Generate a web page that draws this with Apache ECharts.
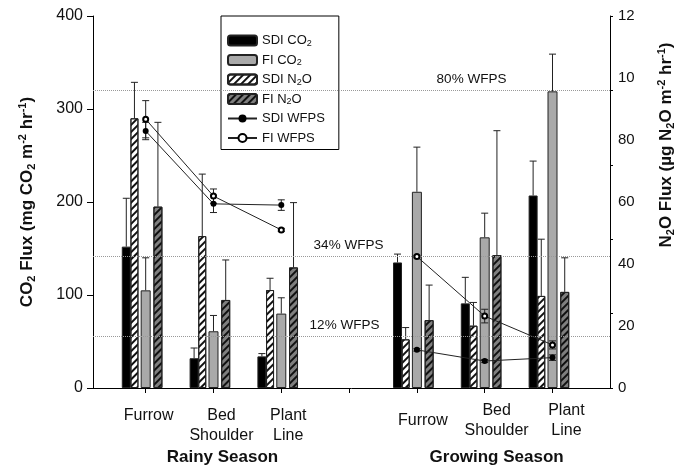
<!DOCTYPE html>
<html><head><meta charset="utf-8">
<script src="https://cdn.jsdelivr.net/npm/echarts@6/dist/echarts.min.js"></script>
<style>html,body{margin:0;padding:0;background:#fff}#c{width:684px;height:468px}</style>
</head><body><div id="c"></div>
<script>
// ---------------- data ----------------
const sites = ['Furrow', 'Bed\nShoulder', 'Plant\nLine'];
const seasons = ['Rainy Season', 'Growing Season'];
// order: Rainy (Furrow, Bed Shoulder, Plant Line), Growing (Furrow, Bed Shoulder, Plant Line)
const sdiCO2    = [152, 32, 34, 135, 91, 207];
const sdiCO2Err = [52, 11, 3, 9, 28, 37];
const fiCO2     = [105, 61, 80, 211, 162, 319];
const fiCO2Err  = [35, 17, 17, 48, 26, 40];
const sdiN2O    = [8.7, 4.9, 3.16, 1.57, 2.01, 2.97];
const sdiN2OErr = [1.16, 2.0, 0.38, 0.38, 0.75, 1.83];
const fiN2O     = [5.85, 2.84, 3.89, 2.19, 4.29, 3.1];
const fiN2OErr  = [2.72, 1.29, 2.09, 1.13, 4.01, 1.1];
const sdiWFPS    = [82.9, 59.4, 59.0, 12.3, 8.7, 9.8];
const sdiWFPSErr = [2.8, 2.8, 1.7, 0.4, 0.5, 0.9];
const fiWFPS     = [86.7, 61.9, 51.0, 42.4, 23.2, 13.9];
const fiWFPSErr  = [6.0, 2.3, 0.5, 0.4, 2.2, 1.3];
const leftTicks = [0, 100, 200, 300, 400];
const rightTickLabels = ['0', '20', '40', '60', '80', '10', '12'];
const refLevels = [80, 35.5, 14];
const refLabels = ['80% WFPS', '34% WFPS', '12% WFPS'];

// ---------------- layout ----------------
const FONT = 'Liberation Sans, Arial, Helvetica, sans-serif';
const GRID = {left: 93, right: 71, top: 16, bottom: 80};
const X_MIN = 0.223, X_MAX = 7.848;
const PPU = (684 - GRID.left - GRID.right) / (X_MAX - X_MIN);
const SLOT = sites.length + 1;
const positions = [];
seasons.forEach((s, si) => sites.forEach((n, i) => positions.push(si * SLOT + i + 1)));
const allTicks = [];
for (let i = 1; i <= seasons.length * SLOT - 1; i++) allTicks.push(i);
// label nudges (pixels) to follow the reference's text placement
const labelShiftPx = [[3, 8, 7], [6, 12, 14]];
const labelMargin = [17, 12];
const seasonShiftPx = [9, 12];

const hatchWhite = {symbol: 'rect', symbolSize: 1, dashArrayX: [1, 0], dashArrayY: [1.4, 2.6], rotation: -Math.PI / 4, color: '#111'};
const hatchDark = {symbol: 'rect', symbolSize: 1, dashArrayX: [1, 0], dashArrayY: [1.6, 2.2], rotation: -Math.PI / 4, color: '#111'};

const barSpecs = [
  {name: 'SDI CO2', values: sdiCO2, err: sdiCO2Err, y: 0, off: -19.5, w: 9, style: {color: '#000'}},
  {name: 'SDI N2O', values: sdiN2O, err: sdiN2OErr, y: 1, off: -11.3, w: 8, style: {color: '#fff', decal: hatchWhite}},
  {name: 'FI CO2', values: fiCO2, err: fiCO2Err, y: 0, off: 0, w: 10, style: {color: '#a9a9a9'}},
  {name: 'FI N2O', values: fiN2O, err: fiN2OErr, y: 1, off: 12.3, w: 9, style: {color: '#7f7f7f', decal: hatchDark}}
];

function pairs(vals, errs) {
  return positions.map((p, i) => errs ? [p, vals[i], errs[i]] : [p, vals[i]]);
}
function lineData(vals) {
  const d = [];
  positions.forEach((p, i) => {
    if (i > 0 && i % sites.length === 0) d.push([p - 1, '-']);
    d.push([p, vals[i]]);
  });
  return d;
}
const errStyle = {stroke: '#222', lineWidth: 1};
function upErr(params, api) {
  const x = api.value(0), v = api.value(1), e = api.value(2);
  const p0 = api.coord([x, v]), p1 = api.coord([x, v + e]);
  return {type: 'group', children: [
    {type: 'line', shape: {x1: p0[0], y1: p0[1], x2: p1[0], y2: p1[1]}, style: errStyle},
    {type: 'line', shape: {x1: p1[0] - 3.5, y1: p1[1], x2: p1[0] + 3.5, y2: p1[1]}, style: errStyle}
  ]};
}
function symErr(params, api) {
  const x = api.value(0), v = api.value(1), e = api.value(2);
  const p0 = api.coord([x, v - e]), p1 = api.coord([x, v + e]);
  return {type: 'group', children: [
    {type: 'line', shape: {x1: p0[0], y1: p0[1], x2: p1[0], y2: p1[1]}, style: errStyle},
    {type: 'line', shape: {x1: p1[0] - 3.5, y1: p1[1], x2: p1[0] + 3.5, y2: p1[1]}, style: errStyle},
    {type: 'line', shape: {x1: p0[0] - 3.5, y1: p0[1], x2: p0[0] + 3.5, y2: p0[1]}, style: errStyle}
  ]};
}

const xAxes = [
  { // main axis line + ticks
    type: 'value', min: X_MIN, max: X_MAX, gridIndex: 0, position: 'bottom',
    axisLine: {lineStyle: {color: '#000', width: 1}},
    axisTick: {customValues: allTicks, length: 5, lineStyle: {color: '#000'}},
    axisLabel: {show: false},
    splitLine: {show: false}
  },
  { // season labels
    type: 'value', min: X_MIN, max: X_MAX, gridIndex: 0, position: 'bottom',
    axisLine: {show: false}, axisTick: {show: false}, splitLine: {show: false},
    axisLabel: {customValues: seasons.map((s, si) => si * SLOT + 2 + seasonShiftPx[si] / PPU), margin: 61,
      color: '#111', fontFamily: FONT, fontSize: 17, fontWeight: 'bold',
      formatter: v => seasons[Math.round((v - 2) / SLOT)]}
  }
];
// site labels, one label axis per season
seasons.forEach((s, si) => {
  xAxes.push({
    type: 'value', min: X_MIN, max: X_MAX, gridIndex: 0, position: 'bottom',
    axisLine: {show: false}, axisTick: {show: false}, splitLine: {show: false},
    axisLabel: {
      customValues: sites.map((n, i) => si * SLOT + i + 1 + labelShiftPx[si][i] / PPU),
      margin: labelMargin[si], color: '#111', fontFamily: FONT, fontSize: 16, lineHeight: 20.5,
      formatter: v => {
        const t = sites[(Math.round(v) - 1) % SLOT];
        return (si === 1 && t.indexOf('\n') < 0) ? '{one|' + t + '}' : t;
      },
      rich: {one: {fontSize: 16, lineHeight: 41, fontFamily: FONT, color: '#111'}}
    }
  });
});
const BAR_AXIS0 = xAxes.length;
barSpecs.forEach(b => {
  xAxes.push({type: 'value', show: false, gridIndex: 0, min: X_MIN - b.off / PPU, max: X_MAX - b.off / PPU, splitLine: {show: false}});
});

const subRich = {
  sub: {fontSize: 11, lineHeight: 11, verticalAlign: 'bottom', fontWeight: 'bold', fontFamily: FONT, color: '#111'},
  sup: {fontSize: 11, lineHeight: 11, verticalAlign: 'top', fontWeight: 'bold', fontFamily: FONT, color: '#111'}
};

const series = [];
barSpecs.forEach((b, i) => {
  series.push({
    name: b.name, type: 'bar', xAxisIndex: BAR_AXIS0 + i, yAxisIndex: b.y, barWidth: b.w, legendIcon: 'rect',
    data: pairs(b.values), itemStyle: Object.assign({borderColor: '#222', borderWidth: 1}, b.style), z: 2
  });
  series.push({
    name: b.name + ' err', type: 'custom', xAxisIndex: BAR_AXIS0 + i, yAxisIndex: b.y,
    data: pairs(b.values, b.err), renderItem: upErr, z: 3, silent: true
  });
});
series.push({
  name: 'SDI WFPS', type: 'line', xAxisIndex: 0, yAxisIndex: 2, data: lineData(sdiWFPS),
  symbol: 'circle', symbolSize: 6, itemStyle: {color: '#000'}, lineStyle: {color: '#222', width: 1}, z: 6
});
series.push({
  name: 'FI WFPS', type: 'line', xAxisIndex: 0, yAxisIndex: 2, data: lineData(fiWFPS),
  symbol: 'emptyCircle', symbolSize: 5, itemStyle: {color: '#000', borderWidth: 1}, lineStyle: {color: '#222', width: 1}, z: 6
});
series.push({name: 'SDI WFPS err', type: 'custom', xAxisIndex: 0, yAxisIndex: 2, data: pairs(sdiWFPS, sdiWFPSErr), renderItem: symErr, z: 5, silent: true});
series.push({name: 'FI WFPS err', type: 'custom', xAxisIndex: 0, yAxisIndex: 2, data: pairs(fiWFPS, fiWFPSErr), renderItem: symErr, z: 5, silent: true});
series.push({
  name: 'refs', type: 'line', xAxisIndex: 0, yAxisIndex: 3, data: [], silent: true,
  markLine: {
    silent: true, symbol: 'none', animation: false,
    lineStyle: {type: 'dotted', color: '#999', width: 1},
    label: {position: 'insideMiddleTop', color: '#111', fontFamily: FONT, fontSize: 13.5, distance: 4},
    data: refLevels.map((v, i) => ({yAxis: v, label: {formatter: refLabels[i], offset: [i === 0 ? 120 : (i === 1 ? -3 : -7), 0]}}))
  }
});

const legendNames = ['SDI CO2', 'FI CO2', 'SDI N2O', 'FI N2O', 'SDI WFPS', 'FI WFPS'];

const option = {
  animation: false,
  backgroundColor: '#fff',
  grid: GRID,
  legend: {
    data: legendNames, orient: 'vertical', left: 221, top: 16,
    backgroundColor: '#fff', borderColor: '#000', borderWidth: 1,
    padding: [17, 14, 4, 6], itemWidth: 29, itemHeight: 10, itemGap: 4.5,
    selectedMode: false,
    textStyle: {fontFamily: FONT, fontSize: 13, color: '#111', lineHeight: 15,
      rich: {s: {fontSize: 9, lineHeight: 9, verticalAlign: 'bottom', fontFamily: FONT, color: '#111'}}},
    formatter: n => n.replace(/(CO|N)2/g, '$1{s|2}')
  },
  xAxis: xAxes,
  yAxis: [
    {type: 'value', min: leftTicks[0], max: leftTicks[leftTicks.length - 1], interval: leftTicks[1] - leftTicks[0], position: 'left',
      axisLine: {show: true, lineStyle: {color: '#000'}}, axisTick: {show: true, length: 6, lineStyle: {color: '#000'}},
      axisLabel: {margin: 10, color: '#111', fontFamily: FONT, fontSize: 16}, splitLine: {show: false},
      name: 'CO{sub|2} Flux (mg CO{sub|2} m{sup|-2} hr{sup|-1})', nameLocation: 'middle', nameGap: 56,
      nameTextStyle: {fontFamily: FONT, fontSize: 17, fontWeight: 'bold', color: '#111', lineHeight: 20, rich: subRich}},
    {type: 'value', min: 0, max: 12, interval: 2, position: 'right',
      axisLine: {show: false}, axisTick: {show: false}, splitLine: {show: false},
      axisLabel: {margin: 8, color: '#111', fontFamily: FONT, fontSize: 15, formatter: (v, i) => rightTickLabels[i]},
      name: 'N{sub|2}O Flux (µg N{sub|2}O m{sup|-2} hr{sup|-1})', nameLocation: 'middle', nameGap: 46,
      nameTextStyle: {fontFamily: FONT, fontSize: 17, fontWeight: 'bold', color: '#111', lineHeight: 20, rich: subRich, padding: [0, 0, 0, 114]}},
    {type: 'value', min: 0, max: 120, show: false, position: 'right', splitLine: {show: false}},
    {type: 'value', min: 0, max: 100, interval: 20, position: 'right',
      axisLine: {show: true, lineStyle: {color: '#000'}}, axisTick: {show: true, length: 3, lineStyle: {color: '#000'}},
      axisLabel: {show: false}, splitLine: {show: false}}
  ],
  series: series
};
const chart = echarts.init(document.getElementById('c'), null, {renderer: 'canvas'});
chart.setOption(option);
</script>
</body></html>
